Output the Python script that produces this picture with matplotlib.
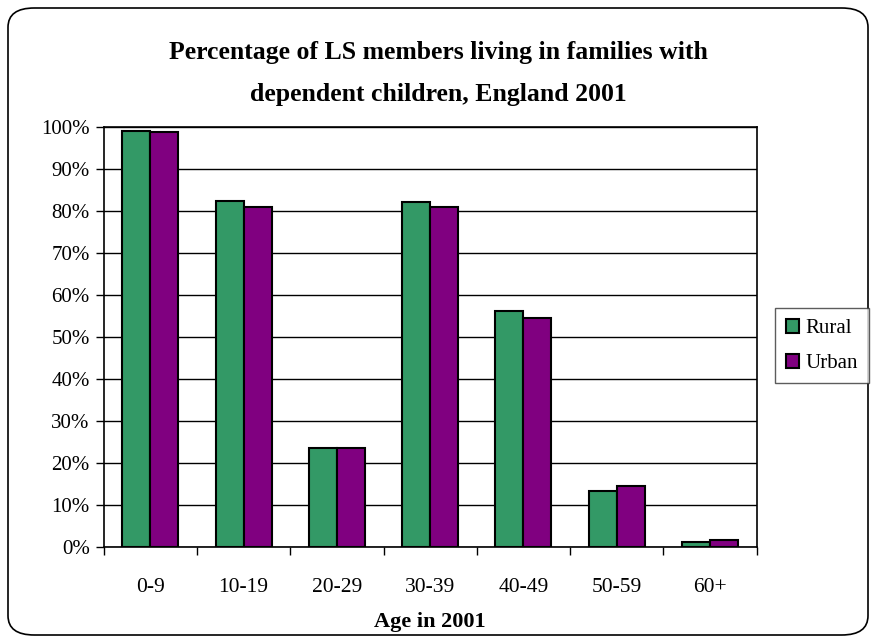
import numpy as np
import matplotlib.pyplot as plt
from matplotlib.patches import FancyBboxPatch

plt.rcParams['font.family'] = ['Liberation Serif', 'DejaVu Serif']

ages = ["0-9", "10-19", "20-29", "30-39", "40-49", "50-59", "60+"]
rural = [99.2, 82.4, 23.6, 82.2, 56.3, 13.3, 1.2]
urban = [98.9, 81.0, 23.6, 80.9, 54.6, 14.6, 1.6]

green = "#339966"
purple = "#800080"

fig = plt.figure(figsize=(8.76, 6.43), dpi=100)
ax = fig.add_axes([103.6 / 876, 1 - 547 / 643, (756.7 - 103.6) / 876, (547 - 127.3) / 643])

x = np.arange(len(ages))
w = 0.3
ax.bar(x - w / 2, rural, w, color=green, edgecolor="black", linewidth=1.5, label="Rural", zorder=3)
ax.bar(x + w / 2, urban, w, color=purple, edgecolor="black", linewidth=1.5, label="Urban", zorder=3)

ax.set_xlim(-0.5, len(ages) - 0.5)
ax.set_ylim(0, 100)
ax.set_yticks(range(0, 101, 10))
ax.set_yticklabels([f"{v}%" for v in range(0, 101, 10)], fontsize=15)
ax.yaxis.grid(True, color="black", linewidth=1, zorder=0)
ax.set_axisbelow(True)

ax.set_xticks(x)
ax.set_xticklabels(ages, fontsize=15.5)
ax.set_xticks(np.arange(-0.5, len(ages)), minor=True)
ax.tick_params(axis="x", which="major", length=0, pad=22)
ax.tick_params(axis="x", which="minor", length=6, width=1, direction="out")
ax.tick_params(axis="y", length=6, width=1, direction="out", pad=4)
for s in ax.spines.values():
    s.set_linewidth(1.2)
    s.set_color("black")

fig.text(430 / 876, 1 - 622 / 643, "Age in 2001", ha="center", va="center",
         fontsize=16, fontweight="bold")

fig.text(0.5, 1 - 53 / 643, "Percentage of LS members living in families with",
         ha="center", va="center", fontsize=18.5, fontweight="bold")
fig.text(0.5, 1 - 94 / 643, "dependent children, England 2001",
         ha="center", va="center", fontsize=18.5, fontweight="bold")

leg = fig.legend(loc="center", bbox_to_anchor=(822 / 876, 1 - 346 / 643), fontsize=15,
                 frameon=True, fancybox=False, edgecolor="#333333", handlelength=0.65,
                 handleheight=0.65, handletextpad=0.3, borderpad=0.5, labelspacing=0.75,
                 borderaxespad=0)
leg.get_frame().set_linewidth(1)

frame = FancyBboxPatch((8 / 876, 8 / 643), 860 / 876, 627 / 643,
                       boxstyle="round,pad=0,rounding_size=0.03",
                       transform=fig.transFigure, fill=False, edgecolor="black", linewidth=1.2)
fig.patches.append(frame)

fig.savefig("out.png", dpi=100)
